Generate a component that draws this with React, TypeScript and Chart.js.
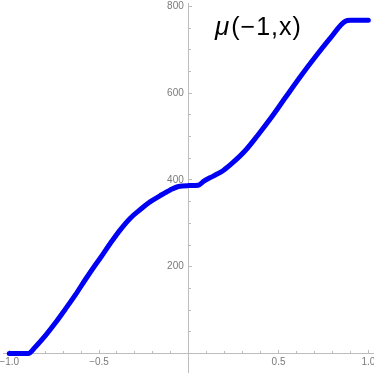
import React, { useEffect, useRef } from "react";
import { Chart, registerables } from "chart.js";

Chart.register(...registerables);

// curve samples
const xValues = [
  -1.0, -0.894, -0.855, -0.799, -0.744, -0.688, -0.632, -0.577, -0.521, -0.493,
  -0.437, -0.382, -0.326, -0.27, -0.214, -0.159, -0.103, -0.058, 0.0, 0.053,
  0.086, 0.136, 0.192, 0.248, 0.315, 0.382, 0.454, 0.538, 0.621, 0.705,
  0.788, 0.872, 0.9, 1.0,
];
const yValues = [
  0, 0, 15, 41, 70, 102, 135, 170, 204, 220,
  254, 285, 312, 332, 350, 364, 377, 385, 387, 388,
  398, 409, 422, 441, 468, 502, 541, 590, 638, 684,
  727, 766, 768, 768,
];

const xMajorTicks = [-1, -0.5, 0.5, 1];
const xTickLabels = ["\u22121.0", "\u22120.5", "0.5", "1.0"];
const xMinorTicks = [-0.9, -0.8, -0.7, -0.6, -0.4, -0.3, -0.2, -0.1, 0.1, 0.2, 0.3, 0.4, 0.6, 0.7, 0.8, 0.9];
const yMajorTicks = [200, 400, 600, 800];
const yTickLabels = ["200", "400", "600", "800"];
const yMinorTicks = [50, 100, 150, 250, 300, 350, 450, 500, 550, 650, 700, 750];
const plotLabelMain = "\u03bc";
const plotLabelRest = "(\u22121,x)";

const X_MIN = -1.035;
const X_MAX = 1.026;
const Y_MIN = -45;
const Y_MAX = 808;

const AXIS_COLOR = "#bdbdbd";
const LABEL_COLOR = "#7a7a7a";
const FONT_FAMILY = '"Liberation Sans", Arial, sans-serif';

export default function App() {
  const canvasRef = useRef<HTMLCanvasElement | null>(null);

  useEffect(() => {
    document.body.style.margin = "0";
    const canvas = canvasRef.current;
    if (!canvas) return;

    const zeroWidth = (s: any) => {
      s.width = 0;
      s.paddingTop = 0;
      s.paddingBottom = 0;
    };
    const zeroHeight = (s: any) => {
      s.height = 0;
      s.paddingLeft = 0;
      s.paddingRight = 0;
    };

    const labelPlugin = {
      id: "plotLabel",
      afterDraw(chart: any) {
        const ctx = chart.ctx;
        ctx.save();
        ctx.fillStyle = "#000";
        ctx.textBaseline = "alphabetic";
        ctx.textAlign = "left";
        try {
          (ctx as any).letterSpacing = "1px";
        } catch (e) {}
        const x0 = 215;
        const baseline = 35;
        ctx.font = `italic 26px ${FONT_FAMILY}`;
        ctx.fillText(plotLabelMain, x0, baseline);
        const w = ctx.measureText(plotLabelMain).width;
        ctx.font = `25px ${FONT_FAMILY}`;
        ctx.fillText(plotLabelRest, x0 + w + 1, baseline);
        ctx.restore();
      },
    };

    const chart = new Chart(canvas, {
      type: "line",
      data: {
        datasets: [
          {
            data: xValues.map((x, i) => ({ x, y: yValues[i] })),
            borderColor: "rgb(0,0,245)",
            borderWidth: 5,
            pointRadius: 0,
            cubicInterpolationMode: "monotone",
            borderCapStyle: "round",
            borderJoinStyle: "round",
            fill: false,
            xAxisID: "x",
            yAxisID: "y",
          },
        ],
      },
      options: {
        animation: false,
        responsive: false,
        maintainAspectRatio: false,
        layout: { padding: { left: 3, right: 1, top: 3, bottom: 0 } },
        plugins: { legend: { display: false }, tooltip: { enabled: false }, title: { display: false } },
        scales: {
          x: {
            type: "linear",
            min: X_MIN,
            max: X_MAX,
            position: { y: 0 } as any,
            afterFit: zeroHeight,
            afterBuildTicks: (s: any) => {
              s.ticks = xMajorTicks.map((v) => ({ value: v }));
            },
            ticks: {
              callback: (_v: any, i: number) => xTickLabels[i],
              color: LABEL_COLOR,
              font: { family: FONT_FAMILY, size: 10 },
              padding: 7,
              maxRotation: 0,
              autoSkip: false,
            },
            grid: { drawOnChartArea: false, drawTicks: true, tickLength: -4, color: AXIS_COLOR, lineWidth: 1 },
            border: { display: true, color: AXIS_COLOR, width: 1 },
          },
          x2: {
            type: "linear",
            axis: "x",
            min: X_MIN,
            max: X_MAX,
            position: { y: 0 } as any,
            afterFit: zeroHeight,
            afterBuildTicks: (s: any) => {
              s.ticks = xMinorTicks.map((v) => ({ value: v }));
            },
            ticks: { display: false },
            grid: { drawOnChartArea: false, drawTicks: true, tickLength: -2, color: AXIS_COLOR, lineWidth: 1 },
            border: { display: false },
          },
          y: {
            type: "linear",
            min: Y_MIN,
            max: Y_MAX,
            position: { x: 0 } as any,
            afterFit: zeroWidth,
            afterBuildTicks: (s: any) => {
              s.ticks = yMajorTicks.map((v) => ({ value: v }));
            },
            ticks: {
              // en space keeps the label clear of the axis line
              callback: (_v: any, i: number) => yTickLabels[i] + "\u2002",
              color: LABEL_COLOR,
              font: { family: FONT_FAMILY, size: 10 },
              autoSkip: false,
            },
            grid: { drawOnChartArea: false, drawTicks: true, tickLength: -4, color: AXIS_COLOR, lineWidth: 1 },
            border: { display: true, color: AXIS_COLOR, width: 1 },
          },
          y2: {
            type: "linear",
            axis: "y",
            min: Y_MIN,
            max: Y_MAX,
            position: { x: 0 } as any,
            afterFit: zeroWidth,
            afterBuildTicks: (s: any) => {
              s.ticks = yMinorTicks.map((v) => ({ value: v }));
            },
            ticks: { display: false },
            grid: { drawOnChartArea: false, drawTicks: true, tickLength: -2, color: AXIS_COLOR, lineWidth: 1 },
            border: { display: false },
          },
        },
      } as any,
      plugins: [labelPlugin],
    });

    return () => chart.destroy();
  }, []);

  return (
    <div style={{ width: 374, height: 373 }}>
      <canvas ref={canvasRef} width={374} height={373} style={{ display: "block" }} />
    </div>
  );
}
